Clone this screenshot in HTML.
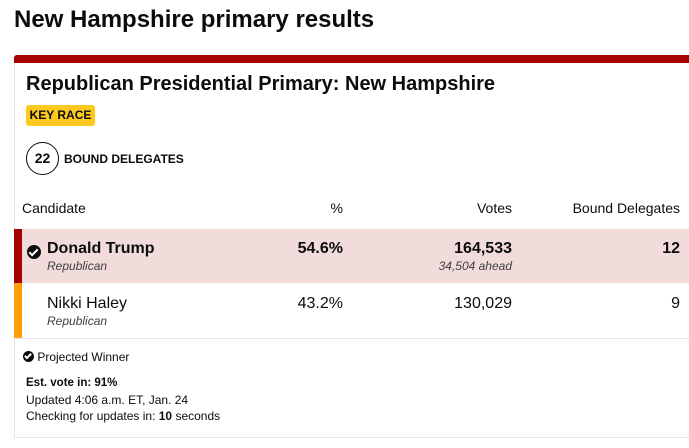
<!DOCTYPE html>
<html><head><style>
body{margin:0;width:689px;height:448px;background:#fff;font-family:"Liberation Sans",Arial,sans-serif;color:#0c0c0c;position:relative;overflow:hidden}
div,span{position:absolute;white-space:nowrap}
.b{font-weight:bold}
.r{text-align:right}
.chk{display:inline-block;position:relative;width:14px;height:14px;border-radius:50%;background:#0c0c0c;vertical-align:middle}
.chk:after{content:"";position:absolute;left:4px;top:2px;width:3px;height:7px;border:solid #fff;border-width:0 2px 2px 0;transform:rotate(45deg)}
.chk.s:after{left:3px;top:1px;width:2px;height:5px}
</style></head><body>
<div class="b" style="left:14px;top:6px;font-size:24px">New Hampshire primary results</div>
<div style="left:14px;top:55px;width:700px;height:383px;border:1px solid #e6e6e6;border-top:none;box-sizing:border-box"></div>
<div style="left:14px;top:55px;width:700px;height:8px;background:#a70000;border-radius:3px 0 0 0"></div>
<div class="b" style="left:26px;top:73px;font-size:20px">Republican Presidential Primary: New Hampshire</div>
<div class="b" style="left:26px;top:105px;width:69px;height:21px;background:#fcc921;border-radius:3px;font-size:12px;line-height:21px;text-align:center">KEY RACE</div>
<div class="b" style="left:26px;top:142px;width:33px;height:33px;border:1.5px solid #0c0c0c;border-radius:50%;box-sizing:border-box;font-size:14px;line-height:30px;text-align:center">22</div>
<div class="b" style="left:64px;top:152px;font-size:12px">BOUND DELEGATES</div>
<div style="left:22px;top:200px;font-size:14px">Candidate</div>
<div style="left:240px;width:103px;top:200px;font-size:14px" class="r">%</div>
<div style="left:380px;width:132px;top:200px;font-size:14px" class="r">Votes</div>
<div style="left:520px;width:160px;top:200px;font-size:14px" class="r">Bound Delegates</div>
<div style="left:14px;top:229px;width:680px;height:54px;background:#f2dbdb"></div>
<div style="left:14px;top:229px;width:8px;height:54px;background:#a70000"></div>
<div style="left:14px;top:283px;width:8px;height:55px;background:#ff9f0a"></div>
<div style="left:14px;top:338px;width:680px;height:1px;background:#e6e6e6"></div>
<div style="left:27px;top:243px"><span class="chk" style="position:relative"></span></div>
<div class="b" style="left:47px;top:240px;font-size:16px">Donald Trump</div>
<div style="left:47px;top:259px;font-size:12px;font-style:italic;color:#404040">Republican</div>
<div class="b r" style="left:240px;width:103px;top:240px;font-size:16px">54.6%</div>
<div class="b r" style="left:380px;width:132px;top:240px;font-size:16px">164,533</div>
<div class="r" style="left:380px;width:132px;top:259px;font-size:12px;font-style:italic;color:#404040">34,504 ahead</div>
<div class="b r" style="left:520px;width:160px;top:240px;font-size:16px">12</div>
<div style="left:47px;top:295px;font-size:16px">Nikki Haley</div>
<div style="left:47px;top:314px;font-size:12px;font-style:italic;color:#404040">Republican</div>
<div class="r" style="left:240px;width:103px;top:295px;font-size:16px">43.2%</div>
<div class="r" style="left:380px;width:132px;top:295px;font-size:16px">130,029</div>
<div class="r" style="left:520px;width:160px;top:295px;font-size:16px">9</div>
<div style="left:23px;top:350px;font-size:12px"><span class="chk s" style="position:relative;width:11px;height:11px;top:-1px"></span> Projected Winner</div>
<div class="b" style="left:26px;top:377px;font-size:11.5px">Est. vote in: 91%</div>
<div style="left:26px;top:393px;font-size:12px">Updated 4:06 a.m. ET, Jan. 24</div>
<div style="left:26px;top:409px;font-size:12px">Checking for updates in: <b>10</b> seconds</div>
</body></html>
